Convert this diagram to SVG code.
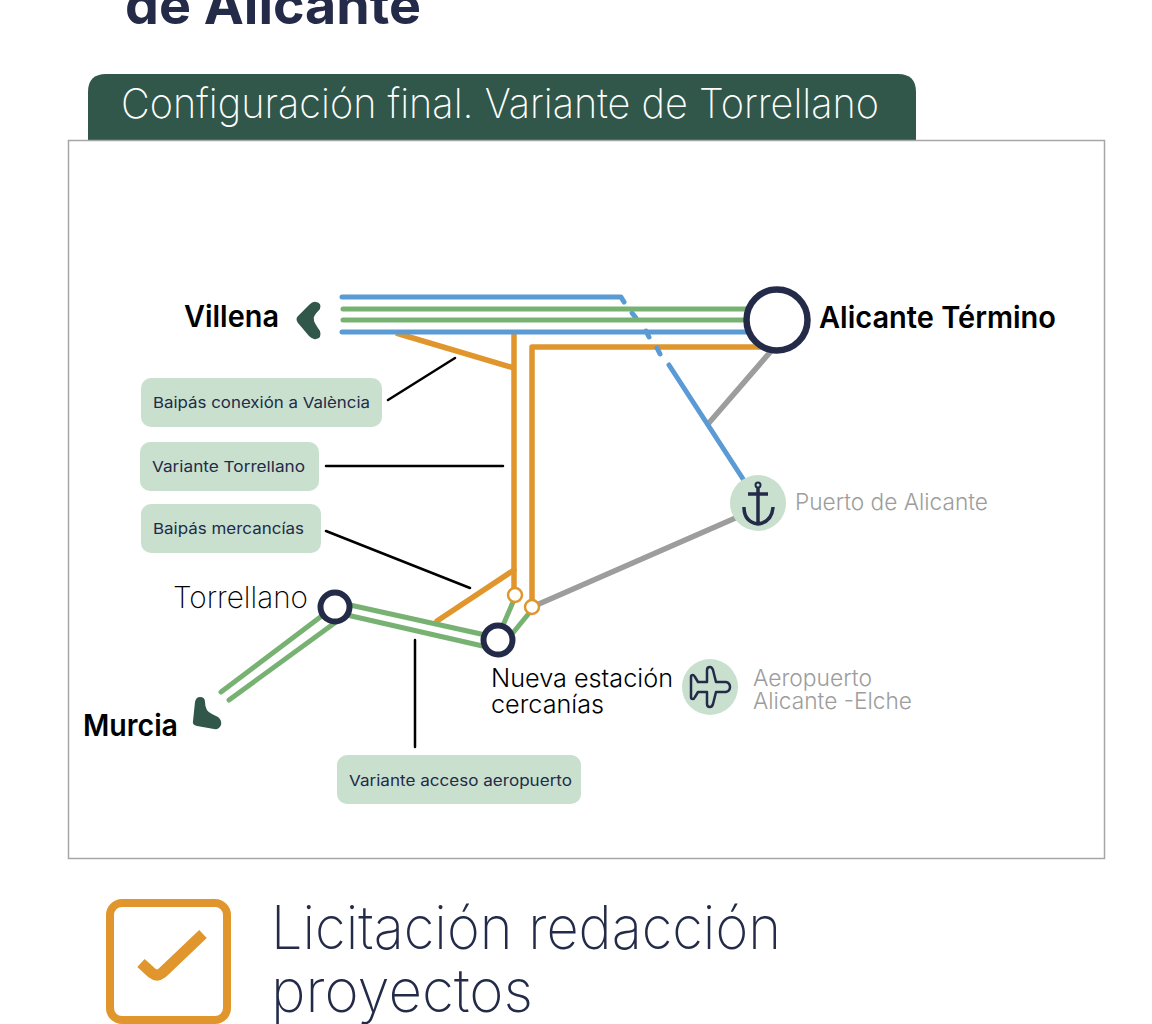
<svg xmlns="http://www.w3.org/2000/svg" width="1152" height="1024" viewBox="0 0 1152 1024">
<style>
.t{font-family:"Inter","Liberation Sans",sans-serif}
.l{font-family:"Inter","Liberation Sans",sans-serif;font-weight:200}
.b{font-family:"Inter","Liberation Sans",sans-serif;font-weight:600;fill:#000}
.pill{fill:#c9e0cf}
.pt{font-family:"Inter","Liberation Sans",sans-serif;font-size:15px;fill:#232b49;font-weight:400}
.gy{font-family:"Inter","Liberation Sans",sans-serif;font-weight:300;font-size:23px;fill:#9d9d9d}
.c{fill:none;stroke-linecap:round;stroke-linejoin:round}
.bt{stroke-linecap:butt}
.bl{stroke:#5b9bd5;stroke-width:5}
.gr{stroke:#78b273;stroke-width:5}
.or{stroke:#e0962c;stroke-width:5.500}
.ga{stroke:#9d9d9d;stroke-width:5.500}
.k{stroke:#000;stroke-width:2.500}
.st{fill:#fff;stroke:#232b49}
</style>
<rect width="1152" height="1024" fill="#fff"/>
<text class="t" x="125" y="24" font-size="54" font-weight="700" fill="#232b49" textLength="296" lengthAdjust="spacingAndGlyphs">de Alicante</text>
<g id="header"><path d="M88 140V92Q88 74 106 74H898Q916 74 916 92V140Z" fill="#30574a"/>
<text class="l" x="121" y="118" font-size="41" fill="#fff" textLength="758" lengthAdjust="spacingAndGlyphs">Configuración final. Variante de Torrellano</text></g>
<rect x="68.500" y="140.500" width="1036" height="718" fill="#fff" stroke="#a6a6a6" stroke-width="1.500"/>
<g id="connectors">
<path class="c ga" d="M772 350L708 424"/>
<path class="c ga" d="M532 607L740 516"/>
<path class="c or bt" d="M396 333L514 368"/>
<path class="c or bt" d="M514 332V592"/>
<path class="c or" d="M532 603V347H770"/>
<path class="c or" d="M437 621L514 570"/>
<path class="c bl" d="M342 297H621L624 302"/>
<path class="c bl" d="M632 313L636 318"/>
<path class="c bl" d="M657 348L660 354"/>
<path class="c bl" d="M669 365L745 482"/>
<path class="c gr" d="M343 309H750M343 320H750"/>
<path class="c bl" d="M342 332H750"/>
<path class="c bl" d="M646 331L649 337"/>
<path class="c gr" d="M327 612L221 692M336 622L229 700"/>
<path class="c gr" d="M350 605L490 636M347 615L487 647"/>
<path class="c gr" d="M513 602L501 630M530 612L512 634"/>
<path class="c k" d="M388 400L455 358M326 466H503M326 531L470 588M415 640V747"/>
</g>
<g id="villena"><path d="M316 302Q322 303 320 309Q312 317 314 320Q313 321 320 331Q322 338 316 339Q313 340 309 336L298 323Q295 319 298 316L309 305Q313 301 316 302Z" fill="#30574a"/>
<text class="b" x="184" y="327" font-size="30" textLength="95" lengthAdjust="spacingAndGlyphs">Villena</text></g>
<g id="alicante"><circle class="st" cx="777" cy="320" r="30.500" stroke-width="6.500"/>
<text class="b" x="819" y="328" font-size="30" textLength="237" lengthAdjust="spacingAndGlyphs">Alicante Término</text></g>
<g id="torrellano"><circle class="st" cx="335" cy="607" r="14.500" stroke-width="6"/>
<text class="l" x="173" y="608" font-size="30" fill="#000" font-weight="300" textLength="135" lengthAdjust="spacingAndGlyphs">Torrellano</text></g>
<g id="nueva"><circle class="st" cx="498" cy="640" r="14.500" stroke-width="6"/>
<text class="t" font-weight="300" font-size="25" fill="#000" x="491" y="687" textLength="182" lengthAdjust="spacingAndGlyphs">Nueva estación</text><text class="t" font-weight="300" font-size="25" fill="#000" x="491" y="713" textLength="113" lengthAdjust="spacingAndGlyphs">cercanías</text></g>
<g id="murcia"><path d="M195 702Q196 697 200 697Q205 697 205 702Q205 711 212 714L218 717Q222 720 221 725Q219 730 214 729L197 726Q192 725 193 721Z" fill="#30574a"/>
<text class="b" x="83" y="736" font-size="30" textLength="95" lengthAdjust="spacingAndGlyphs">Murcia</text></g>
<g id="j1"><circle cx="515" cy="595" r="7" fill="#fff" stroke="#e0962c" stroke-width="2.500"/></g>
<g id="j2"><circle cx="532" cy="607" r="7" fill="#fff" stroke="#e0962c" stroke-width="2.500"/></g>
<g id="puerto"><circle class="pill" cx="758" cy="503" r="28"/>
<path d="M758 488V524M748 494H768M744 507Q744 522 758 524Q772 522 773 507" fill="none" stroke="#232b49" stroke-width="3.500" stroke-linecap="butt"/><circle cx="758" cy="485" r="2.500" fill="none" stroke="#232b49" stroke-width="2"/>
<text class="gy" x="795" y="510" textLength="193" lengthAdjust="spacingAndGlyphs">Puerto de Alicante</text></g>
<g id="aeropuerto"><circle class="pill" cx="710" cy="687" r="28"/>
<path d="M691 677Q691 675 693 675Q694 675 695 677L698 682H707V670Q707 667 710 667Q712 667 713 670L716 682H726Q730 683 730 687Q730 691 726 692H716L713 704Q712 707 710 707Q707 707 707 704V692H698L695 697Q694 699 693 699Q691 699 691 697Z" fill="none" stroke="#232b49" stroke-width="2.500" stroke-linejoin="round"/>
<text class="gy" x="753" y="686" textLength="119" lengthAdjust="spacingAndGlyphs">Aeropuerto</text><text class="gy" x="753" y="709" textLength="159" lengthAdjust="spacingAndGlyphs">Alicante -Elche</text></g>
<g id="p1"><rect class="pill" x="141" y="378" width="241" height="49" rx="10"/><text class="pt" x="153" y="408" textLength="217" lengthAdjust="spacingAndGlyphs">Baipás conexión a València</text></g>
<g id="p2"><rect class="pill" x="140" y="442" width="179" height="49" rx="10"/><text class="pt" x="152" y="472" textLength="153" lengthAdjust="spacingAndGlyphs">Variante Torrellano</text></g>
<g id="p3"><rect class="pill" x="141" y="504" width="180" height="49" rx="10"/><text class="pt" x="153" y="534" textLength="151" lengthAdjust="spacingAndGlyphs">Baipás mercancías</text></g>
<g id="p4"><rect class="pill" x="337" y="755" width="244" height="49" rx="10"/><text class="pt" x="349" y="786" textLength="223" lengthAdjust="spacingAndGlyphs">Variante acceso aeropuerto</text></g>
<g id="check"><rect x="110" y="903" width="117" height="117" rx="12" fill="none" stroke="#e0962c" stroke-width="8"/>
<path d="M141 963L152 973Q157 977 162 973L203 934" fill="none" stroke="#e0962c" stroke-width="11"/>
<text class="l" font-size="60" fill="#232b49" textLength="510" lengthAdjust="spacingAndGlyphs" x="271" y="949">Licitación redacción</text>
<text class="l" font-size="60" fill="#232b49" x="271" y="1012" textLength="262" lengthAdjust="spacingAndGlyphs">proyectos</text></g>
</svg>
